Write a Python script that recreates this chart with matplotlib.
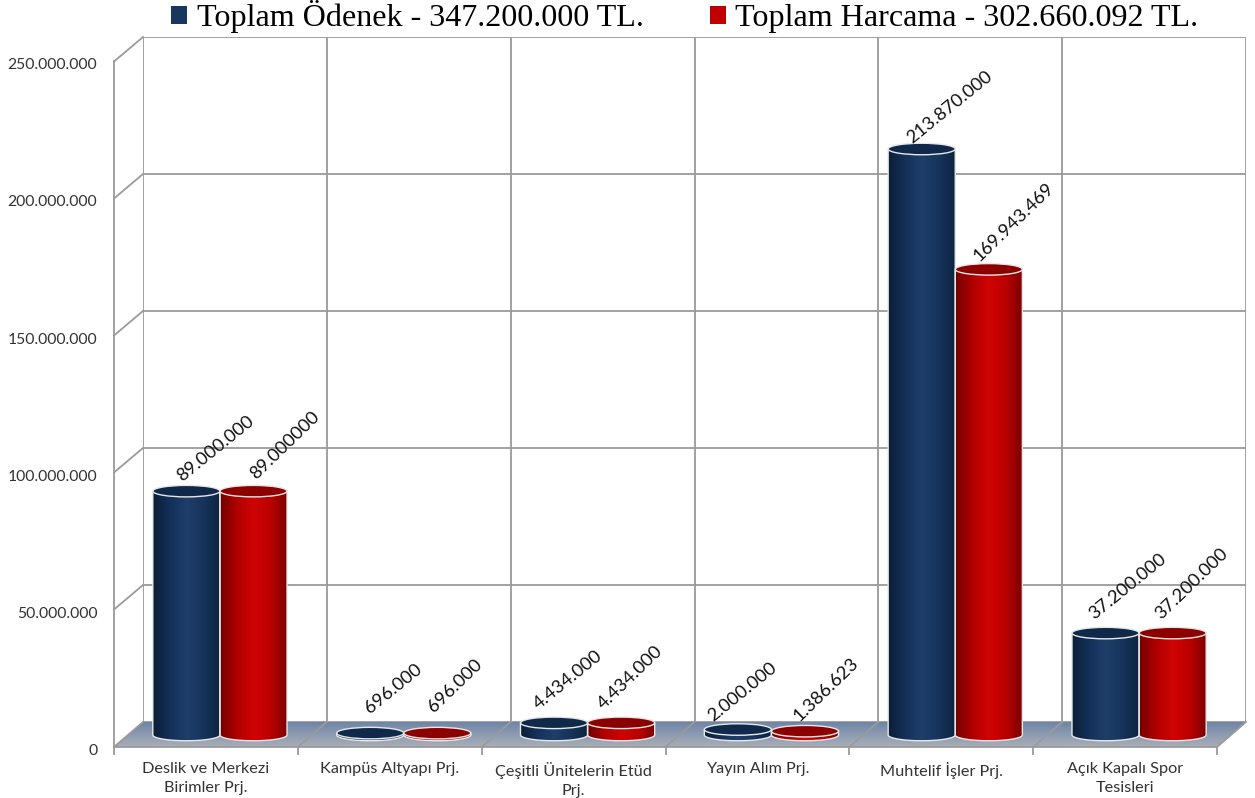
import numpy as np
import matplotlib
matplotlib.use('Agg')
import matplotlib.pyplot as plt
from matplotlib.colors import LinearSegmentedColormap
from matplotlib.patches import Ellipse, PathPatch, Patch, Polygon
from matplotlib.path import Path
from matplotlib.transforms import ScaledTranslation

# data
categories = ['Deslik ve Merkezi\nBirimler Prj.', 'Kampüs Altyapı Prj.', 'Çeşitli Ünitelerin Etüd\nPrj.',
              'Yayın Alım Prj.', 'Muhtelif İşler Prj.', 'Açık Kapalı Spor\nTesisleri']
odenek = [89000000, 696000, 4434000, 2000000, 213870000, 37200000]
harcama = [89000000, 696000, 4434000, 1386623, 169943469, 37200000]
odenek_labels = ['89.000.000', '696.000', '4.434.000', '2.000.000', '213.870.000', '37.200.000']
harcama_labels = ['89.000000', '696.000', '4.434.000', '1.386.623', '169.943.469', '37.200.000']
y_ticks = [0, 50000000, 100000000, 150000000, 200000000, 250000000]
y_tick_labels = ['0', '50.000.000', '100.000.000', '150.000.000', '200.000.000', '250.000.000']
legend_labels = ['Toplam Ödenek - 347.200.000 TL.', 'Toplam Harcama - 302.660.092 TL.']

# label offsets in pixels from the top of each bar
odenek_off = [(-2, 7), (2, 17), (-13, 11), (-23, 5), (-8, 3), (-9, 11)]
harcama_off = [(5, 9), (-1, 18), (-15, 11), (-3, 7), (-7, 5), (-9, 11)]

W, H = 1255, 798
GRID = '#9a9a9a'
TXT = '#333333'
LW = 1.3
plt.rcParams['font.family'] = ['Lato', 'DejaVu Sans']

fig = plt.figure(figsize=(W / 100, H / 100), dpi=100)


def px_axes(left, right, top, bottom):
    return fig.add_axes([left / W, 1 - bottom / H, (right - left) / W, (bottom - top) / H])


# floor and the diagonals, in pixels
bg = fig.add_axes([0, 0, 1, 1])
bg.set_xlim(0, W)
bg.set_ylim(H, 0)
bg.axis('off')
floor_cmap = LinearSegmentedColormap.from_list('floor', ['#6f85a6', '#8d9bb0', '#a9aeb8'])
floor_img = bg.imshow(np.linspace(0, 1, 64).reshape(-1, 1), cmap=floor_cmap, aspect='auto',
                      extent=(114, 1246, 747, 722))
floor_poly = Polygon([(143, 722), (1246, 722), (1217, 747), (114, 747)], closed=True, transform=bg.transData,
                     facecolor='none', edgecolor='none')
bg.add_patch(floor_poly)
floor_img.set_clip_path(floor_poly)
bg.set_xlim(0, W)
bg.set_ylim(H, 0)
for k in range(7):
    xf = 114 + k * (1217 - 114) / 6
    bg.plot([xf, xf + 29], [747, 722], color=GRID, lw=LW)
for t in y_ticks[1:]:
    yb = 722 - t * 685 / 250000000
    bg.plot([114, 143], [yb + 24.5, yb], color=GRID, lw=LW)

# back wall
back = px_axes(143, 1246, 37, 722)
back.patch.set_alpha(0)
back.set_xlim(0, 6)
back.set_ylim(0, 250000000)
back.set_xticks(range(7))
back.set_yticks(y_ticks)
back.grid(True, color=GRID, lw=LW)
back.tick_params(length=0, labelbottom=False, labelleft=False)
for s in back.spines.values():
    s.set_visible(False)

# front axes carries the ticks
front = px_axes(114, 1217, 61, 747)
front.patch.set_alpha(0)
front.set_xlim(0, 6)
front.set_ylim(0, 250000000)
front.set_yticks(y_ticks)
front.set_yticklabels(y_tick_labels, fontsize=11.3, color=TXT)
front.set_xticks(range(7))
front.set_xticklabels([])
front.set_xticks(np.arange(6) + 0.5, categories, minor=True, fontsize=11.7, color=TXT, linespacing=1.4)
front.tick_params(axis='x', which='major', length=6, color=GRID, width=LW)
front.tick_params(axis='x', which='minor', length=0, pad=11)
front.tick_params(axis='y', length=0, pad=12)
down = ScaledTranslation(0, -2 / 72, fig.dpi_scale_trans)
for lab in front.get_yticklabels():
    lab.set_transform(lab.get_transform() + down)
front.spines['top'].set_visible(False)
front.spines['right'].set_visible(False)
for side in ['left', 'bottom']:
    front.spines[side].set_color(GRID)
    front.spines[side].set_linewidth(LW)

# cylinders
PX_PER_UNIT = 685 / 250000000
ymin = -6000000
ax = px_axes(128, 1231, 50, 735 - ymin * PX_PER_UNIT)
ax.patch.set_alpha(0)
ax.axis('off')

bar_w = 0.365
ell_h = 11.5 / PX_PER_UNIT
blue_cmap = LinearSegmentedColormap.from_list('b', ['#0a1e36', '#14305a', '#1e3f6b', '#16335a', '#0c2440'])
red_cmap = LinearSegmentedColormap.from_list('r', ['#720000', '#b00000', '#d00404', '#bb0000', '#7a0000'])
x = np.arange(6) + 0.5


def cylinder(xc, val, cmap, topcol):
    l, r = xc - bar_w / 2, xc + bar_w / 2
    th = np.linspace(np.pi, 2 * np.pi, 40)
    xs = xc + bar_w / 2 * np.cos(th)
    ys = ell_h / 2 * np.sin(th)
    verts = [(l, val)] + list(zip(xs, ys)) + [(r, val), (l, val)]
    body = PathPatch(Path(verts, closed=True), facecolor='none', edgecolor='#e8e8e8', lw=1.0, zorder=3)
    ax.add_patch(body)
    im = ax.imshow(np.linspace(0, 1, 128).reshape(1, -1), cmap=cmap, aspect='auto', zorder=2,
                   extent=(l, r, -ell_h, val))
    im.set_clip_path(body)
    ax.add_patch(Ellipse((xc, val), bar_w, ell_h, facecolor=topcol, edgecolor='#e8e8e8', lw=1.0, zorder=4))


def value_label(text, xc, val, off, rot):
    ax.annotate(text, (xc, val), xytext=(off[0] * .72, off[1] * .72), textcoords='offset points',
                rotation=rot, rotation_mode='anchor', ha='left', va='bottom',
                fontsize=13.2, color='#111111', zorder=5, annotation_clip=False)


for i in range(6):
    cylinder(x[i] - bar_w / 2, odenek[i], blue_cmap, '#10294a')
    cylinder(x[i] + bar_w / 2, harcama[i], red_cmap, '#8c0000')
    value_label(odenek_labels[i], x[i] - bar_w / 2, odenek[i], odenek_off[i], 39)
    value_label(harcama_labels[i], x[i] + bar_w / 2, harcama[i], harcama_off[i], 44)
ax.set_xlim(0, 6)
ax.set_ylim(ymin, 250000000)

handles = [Patch(facecolor='#17375e', label=legend_labels[0]), Patch(facecolor='#c00000', label=legend_labels[1])]
fig.legend(handles=handles, loc='upper center', bbox_to_anchor=(685 / W, 1.036), ncol=2, frameon=False,
           prop={'family': 'Liberation Serif', 'size': 23.1}, handlelength=0.5, handleheight=0.5,
           handletextpad=0.3, columnspacing=2.05)

fig.savefig('out.png', dpi=100)
